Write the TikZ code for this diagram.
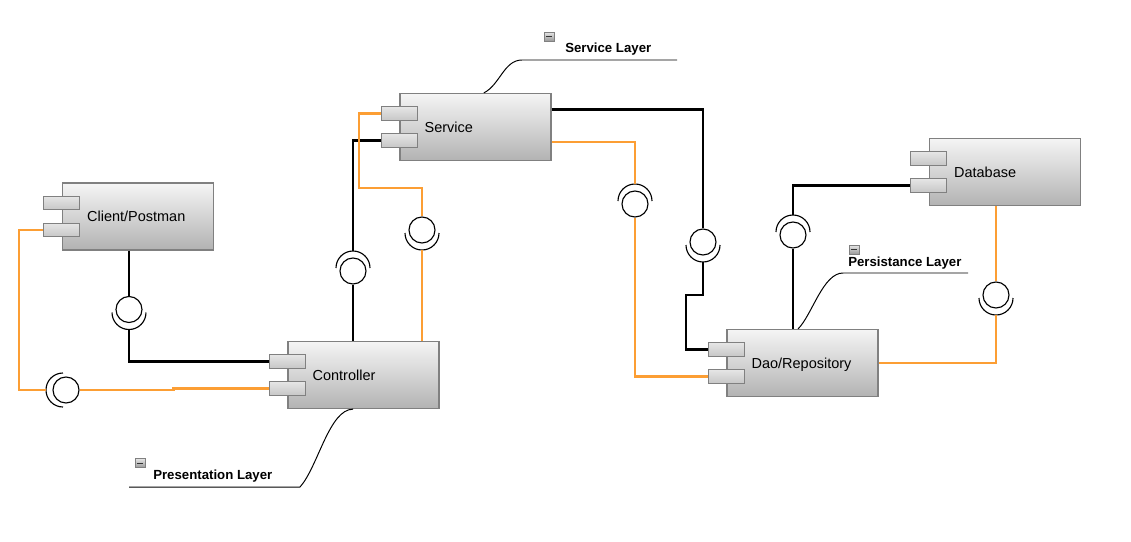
\documentclass[tikz,border=0pt]{standalone}
\usepackage{fontspec}
\setmainfont{Liberation Sans}
\usepackage{tikz}
\usetikzlibrary{calc}

\definecolor{wireorange}{RGB}{252,158,52}

\tikzset{
  comp/.style={draw=black!50, line width=0.9pt, top color=black!4, bottom color=black!30,
    minimum width=3.775cm, minimum height=1.675cm, inner sep=0pt},
  cname/.style={anchor=west, xshift=0.625cm, inner sep=0pt, text height=7.4pt, text depth=0pt,
    font=\fontsize{10.3}{12}\selectfont},
  port/.style={draw=black!50, line width=0.8pt, top color=black!10, bottom color=black!22,
    minimum width=0.9cm, minimum height=0.34cm, inner sep=0pt},
  ball/.style={circle, draw, line width=0.8pt, minimum size=0.65cm, inner sep=0pt},
  sock/.style={line width=0.8pt},
  wire/.style={line width=1.6pt},
  owire/.style={line width=1.6pt, wireorange},
  note/.style={line width=0.7pt},
  layer/.style={font=\bfseries\fontsize{9.4}{11}\selectfont, inner sep=0pt},
  icon/.style={draw=black!50, line width=0.5pt, top color=black!10, bottom color=black!40,
    minimum width=0.25cm, minimum height=0.22cm, inner sep=0pt,
    path picture={\draw[black!80, line width=0.7pt]
      ([xshift=-0.08cm]path picture bounding box.center) -- ([xshift=0.08cm]path picture bounding box.center);}},
}

\begin{document}
\begin{tikzpicture}[x=0.025cm, y=-0.025cm]
	\useasboundingbox (0,0) rectangle (1131,541);
	%% components
	\node[comp, label={[cname]west:Client/Postman}] (client) at (138,216.5) {};
	\node[comp, label={[cname]west:Service}] (svc) at (475.5,127) {};
	\node[comp, label={[cname]west:Controller}] (ctrl) at (363.5,375) {};
	\node[comp, label={[cname]west:Dao/Repository}] (dao) at (802.5,363) {};
	\node[comp, label={[cname]west:Database}] (db) at (1005,172) {};
	%% ports
	\foreach \c in {client,svc,ctrl,dao,db} {
		\node[port] (\c-a) at ([yshift=0.3375cm]\c.west) {};
		\node[port] (\c-b) at ([yshift=-0.3375cm]\c.west) {};
	}
	%% interfaces: ball + socket
	\foreach \n/\x/\y/\a in {b1/129/309.5/270, b2/66/390/180, b3/353/271/90, b4/422/230/270,
		b5/635/204/90, b6/703/242/270, b7/793/235/90, b8/996/295/270} {
		\node[ball] (\n) at (\x,\y) {};
		\draw[sock] ([shift={(\a:0.075cm)}]\n.center) ++(\a-90:0.425cm)
			arc[start angle=\a-90, end angle=\a+90, radius=0.425cm];
		\coordinate (\n-s) at ([shift={(\a:0.5cm)}]\n.center);
	}
	%% connectors
	\draw[wire] (b1 |- client.south) -- (b1.north);
	\draw[wire] (b1-s) |- (ctrl-a.west);
	\draw[owire] (client-b.west) -- ++(-24,0) |- (b2-s);
	\draw[owire] (b2.east) -- ++(94,0) |- (ctrl-b.west);
	\draw[wire] (b3 |- ctrl.north) -- (b3.south);
	\draw[wire] (b3-s) |- (svc-b.west);
	\draw[owire] (svc-a.west) -- ++(-22,0) -- ++(0,74.5) -| (b4.north);
	\draw[owire] (b4-s) -- (b4-s |- ctrl.north);
	\draw[owire] ([yshift=-0.38cm]svc.east) -| (b5-s);
	\draw[owire] (b5.south) |- (dao-b.west);
	\draw[wire] ([yshift=0.44cm]svc.east) -| (b6.north);
	\draw[wire] (b6-s) -- ++(0,33) -- ++(-17,0) |- (dao-a.west);
	\draw[wire] (b7 |- dao.north) -- (b7.south);
	\draw[wire] (b7-s) |- (db-b.west);
	\draw[owire] (b8 |- db.south) -- (b8.north);
	\draw[owire] (b8-s) |- (dao.east);
	%% layer notes
	\node[icon] (svcicon) at (549,36.5) {};
	\node[layer, anchor=base west] (svclayer) at (565,52) {Service Layer};
	\coordinate (svcnote) at (522,60);
	\draw[note] ([xshift=0.21cm]svc.north) .. controls +(16,-8) and +(-18,0) .. (svcnote) -- ++(155,0);
	\node[icon] (ctrlicon) at (140,463) {};
	\node[layer, anchor=base west] (ctrllayer) at (153,479) {Presentation Layer};
	\coordinate (ctrlnote) at (300,487);
	\draw[note] ([xshift=-0.26cm]ctrl.south) .. controls +(-24,0) and +(18,-20) .. (ctrlnote) -- ++(-171,0);
	\node[icon] (daoicon) at (854,249.5) {};
	\node[layer, anchor=base west] (daolayer) at (848,266) {Persistance Layer};
	\coordinate (daonote) at (843,273);
	\draw[note] ([xshift=-0.11cm]dao.north) .. controls +(14,-14) and +(-20,0) .. (daonote) -- ++(125,0);
\end{tikzpicture}
\end{document}
